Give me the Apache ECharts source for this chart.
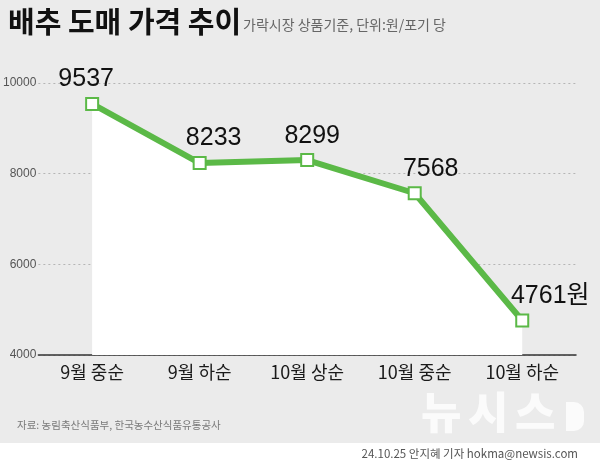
<!DOCTYPE html>
<html>
<head>
<meta charset="utf-8">
<script src="https://cdn.jsdelivr.net/npm/echarts@6/dist/echarts.min.js"></script>
<style>
  html, body { margin: 0; padding: 0; background: #ffffff; }
  #chart { width: 600px; height: 465px; }
</style>
</head>
<body>
<div id="chart"></div>
<script>
// ---- data ----
const categories = ['9월 중순', '9월 하순', '10월 상순', '10월 중순', '10월 하순'];
const prices = [9537, 8233, 8299, 7568, 4761];
const yTicks = [4000, 6000, 8000, 10000];
const titleText = '배추 도매 가격 추이';
const subtitleText = '가락시장 상품기준, 단위:원/포기 당';
const sourceText = '자료: 농림축산식품부, 한국농수산식품유통공사';
const creditText = '24.10.25 안지혜 기자 hokma@newsis.com';
const logoChars = ['뉴', '시', '스'];
const unit = '원';

// ---- chart ----
const numFont = "'Liberation Sans', 'Noto Sans CJK KR', sans-serif";
const krFont = "'Noto Sans CJK KR', sans-serif";
const green = '#5bb947';
const labelDx = [-6, 14, 5, 16, 28];

const chart = echarts.init(document.getElementById('chart'), null, { renderer: 'canvas' });

const seriesData = prices.map((v, i) => ({
  value: v,
  label: { offset: [labelDx[i], 0] }
}));

const logoGraphics = logoChars.map((c, i) => ({
  type: 'text', left: 421 + i * 47, top: 390,
  style: { text: c, fill: '#fbfbfb', font: "900 44px 'Noto Sans CJK KR', sans-serif" }
}));

chart.setOption({
  backgroundColor: '#ebebeb',
  animation: false,
  grid: { left: 36, width: 540, top: 83, height: 272 },
  xAxis: {
    type: 'category',
    data: categories,
    boundaryGap: true,
    axisLine: { lineStyle: { color: '#333', width: 1.5 } },
    axisTick: { alignWithLabel: true, inside: true, length: 10, lineStyle: { color: '#333', width: 1.2 } },
    axisLabel: { color: '#1a1a1a', fontSize: 18, fontFamily: krFont, margin: 8 }
  },
  yAxis: {
    type: 'value',
    min: yTicks[0],
    max: yTicks[yTicks.length - 1],
    interval: yTicks[1] - yTicks[0],
    axisLine: { show: false },
    axisTick: { show: false },
    axisLabel: { color: '#555', fontSize: 12, fontFamily: numFont, margin: 2, formatter: v => String(v) },
    splitLine: { lineStyle: { color: '#b5b5b5', type: [2, 3], width: 1 } }
  },
  series: [{
    type: 'line',
    data: seriesData,
    z: 5,
    lineStyle: { color: green, width: 6 },
    areaStyle: { color: '#ffffff', opacity: 1, origin: 'start' },
    symbol: 'rect',
    symbolSize: 12,
    itemStyle: { color: '#ffffff', borderColor: green, borderWidth: 2 },
    label: {
      show: true,
      position: 'top',
      distance: 5,
      color: '#111',
      fontSize: 25,
      fontFamily: numFont,
      formatter: p => p.dataIndex === prices.length - 1 ? p.value + unit : String(p.value)
    }
  }],
  graphic: [
    { type: 'rect', left: 0, top: 443, shape: { width: 600, height: 22 }, style: { fill: '#ffffff' }, z: 0 },
    { type: 'text', left: 8, top: 7, style: { text: titleText, fill: '#111', font: "bold 29px 'Noto Sans CJK KR', sans-serif" } },
    { type: 'text', left: 243, top: 18, style: { text: subtitleText, fill: '#666', font: "14px 'Noto Sans CJK KR', sans-serif" } },
    { type: 'text', left: 17, top: 420, style: { text: sourceText, fill: '#7a7a7a', font: "10.5px 'Noto Sans CJK KR', sans-serif" } },
    { type: 'text', right: 22, top: 448, style: { text: creditText, fill: '#555', font: "11.5px 'Noto Sans CJK KR', sans-serif" } },
    ...logoGraphics,
    { type: 'rect', left: 566, top: 402, shape: { width: 18, height: 29, r: [0, 10, 10, 0] }, style: { fill: '#fbfbfb' } }
  ]
});
</script>
</body>
</html>
